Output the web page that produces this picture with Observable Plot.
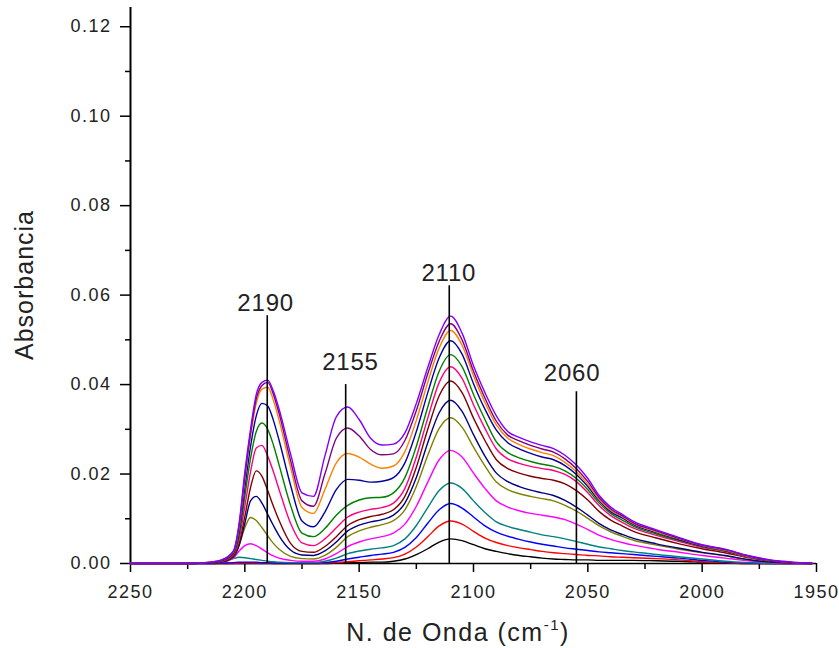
<!DOCTYPE html>
<html><head><meta charset="utf-8">
<script src="https://cdn.jsdelivr.net/npm/d3@7"></script>
<script src="https://cdn.jsdelivr.net/npm/@observablehq/plot@0.6"></script>
<style>
body{margin:0;background:#fff;}
#chart svg{display:block;font-family:"Liberation Sans",Arial,sans-serif;}
#chart g[aria-label="x-axis tick label"] text,
#chart g[aria-label="y-axis tick label"] text{letter-spacing:1.5px;}
#chart g[aria-label="text"] text{letter-spacing:0.8px;}
</style></head><body><div id="chart"></div>
<script>
// Wavenumber grid (cm-1)
const wavenumbers = [2250,2225,2215,2210,2205,2202.5,2200,2197.5,2195,2192.5,2190,2187.5,2185,2180,2175,2170,2165,2160,2155,2150,2145,2140,2135,2130,2125,2120,2115,2110,2105,2100,2095,2090,2085,2080,2075,2070,2065,2060,2055,2050,2045,2040,2035,2030,2020,2010,2000,1990,1980,1970,1960,1952];
// Absorbance values, in units of 1e-4
const UNIT = 1e-4;
const absBlack   = [0,0,0,0,0, 0,0,0,0,0, 0,0,0,0,0, 0,0,1,2,2, 3,3,5,10,20, 33,48,55,51,42, 33,27,22,18,15, 12,10,9,8,8, 7,7,7,7,6, 5,3,1,0,0, 0,0];
const absRed     = [0,0,0,0,0, 1,1,1,1,1, 1,0,0,0,0, 0,1,2,4,6, 8,10,13,21,37, 60,84,95,88,72, 57,47,40,35,31, 27,24,22,20,18, 17,15,14,13,11, 8,4,2,0,0, 0,0];
const absBlue    = [0,0,0,1,2, 3,3,3,3,2, 2,1,1,1,1, 1,2,5,10,14, 18,21,25,36,58, 90,120,134,124,104, 84,70,61,54,48, 43,39,35,32,29, 26,24,22,20,16, 12,7,3,1,0, 0,0];
const absTeal    = [0,0,1,4,11, 14,13,11,9,7, 5,4,3,2,2, 2,5,12,22,28, 32,35,40,55,85, 125,163,180,168,140, 114,93,83,76,70, 64,60,55,49,43, 37,33,29,26,20, 15,10,5,2,0, 0,0];
const absMagenta = [0,0,1,3,12, 28,40,44,40,32, 24,17,12,7,5, 5,10,22,38,48, 55,60,68,88,128, 182,232,253,238,202, 168,140,126,118,112, 108,104,98,88,76, 63,54,47,41,32, 25,18,12,6,2, 0,0];
const absOlive   = [0,0,1,3,14, 42,80,103,96,80, 62,45,32,16,11, 10,18,36,60,73, 81,87,96,120,172, 242,302,326,305,260, 218,182,165,156,150, 145,140,130,117,101, 84,71,61,52,41, 32,24,17,8,3, 1,0];
const absNavy    = [0,0,1,3,15, 40,90,140,150,135, 110,85,62,30,19, 18,28,48,73,86, 93,98,108,135,192, 270,337,365,340,288, 240,202,183,172,164, 158,152,141,126,108, 89,75,65,56,44, 34,25,18,9,3, 1,0];
const absWine    = [0,0,1,4,17, 45,105,170,207,195, 163,128,96,45,27, 25,38,60,85,98, 105,110,120,150,215, 300,375,408,382,325, 275,232,212,202,195, 190,186,178,163,142, 116,97,84,72,57, 44,33,24,13,5, 1,0];
const absPink    = [0,0,2,5,20, 55,128,205,258,264, 240,205,165,90,46, 40,55,80,104,115, 121,125,135,168,238, 325,405,440,414,355, 302,256,234,224,217, 212,208,199,183,158, 129,107,92,79,63, 49,36,27,14,6, 2,0];
const absGreen   = [0,0,2,6,22, 62,150,235,295,314, 300,265,220,130,68, 60,78,108,130,142, 147,148,158,192,262, 350,430,467,440,378, 322,272,248,236,228, 222,217,207,190,165, 135,112,97,83,66, 51,38,28,15,6, 2,0];
const absRoyal   = [0,0,2,7,24, 72,170,262,330,358, 352,320,275,175,95, 82,115,165,188,186, 182,184,192,225,295, 382,460,498,468,402, 345,298,270,256,246, 238,232,219,199,172, 140,116,102,87,69, 53,39,29,16,6, 2,0];
const absOrange  = [0,0,3,8,26, 80,188,285,358,390, 394,365,320,215,125, 112,165,225,246,238, 222,213,218,250,320, 405,482,521,488,420, 360,310,280,266,256, 248,241,226,205,177, 143,119,105,89,71, 55,40,30,16,7, 2,0];
const absPurple  = [0,0,3,8,27, 85,195,292,368,398, 405,378,335,230,140, 128,200,280,303,285, 255,243,245,275,342, 424,497,536,500,430, 370,318,287,274,264, 256,249,234,212,183, 147,122,107,91,73, 56,41,31,17,7, 2,0];
const absViolet  = [0,0,3,8,28, 90,205,300,378,405, 410,385,345,245,158, 150,240,328,350,322, 280,265,267,292,358, 438,512,553,515,442, 382,330,295,282,272, 264,257,242,220,190, 152,126,110,94,75, 58,42,32,18,8, 3,0];

const seriesNames = ["black","red","blue","darkcyan","magenta","darkyellow","navy","wine","pink","olive","royal","orange","purple","violet"];
const seriesValues = [absBlack,absRed,absBlue,absTeal,absMagenta,absOlive,absNavy,absWine,absPink,absGreen,absRoyal,absOrange,absPurple,absViolet];
const seriesColors = ["#000000","#ff0000","#0000ff","#008080","#ff00ff","#808000","#000080","#800000","#ff0080","#008000","#0000a0","#ff8000","#800080","#8000ff"];

// Axes
const xDomain = [2250, 1950];
const yDomain = [0, 0.1243];
const xMajorTicks = [2250,2200,2150,2100,2050,2000,1950];
const xMinorTicks = [2225,2175,2125,2075,2025,1975];
const yMajorTicks = [0,0.02,0.04,0.06,0.08,0.10,0.12];
const yMinorTicks = [0.01,0.03,0.05,0.07,0.09,0.11];

// Peak annotations
const peakWn     = [2190.2, 2155.9, 2110.6, 2055.0];
const peakTop    = [0.0554, 0.0400, 0.0621, 0.0384];
const peakLabels = ["2190", "2155", "2110", "2060"];
const labelWn    = [2190.9, 2153.8, 2110.8, 2056.9];
const labelAbs   = [0.0581, 0.0449, 0.0648, 0.0425];

const rows = [];
seriesValues.forEach((vals, k) => vals.forEach((v, i) => rows.push({wn: wavenumbers[i], abs: v * UNIT, series: seriesNames[k]})));
const peaks = peakWn.map((w, i) => ({wn: w, top: peakTop[i], label: peakLabels[i], lw: labelWn[i], la: labelAbs[i]}));

const chart = Plot.plot({
  width: 839, height: 648,
  marginLeft: 130, marginRight: 23, marginTop: 7, marginBottom: 85,
  style: {fontFamily: '"Liberation Sans", Arial, sans-serif', fontSize: "18px", color: "#222", background: "white"},
  x: {domain: xDomain},
  y: {domain: yDomain},
  color: {domain: seriesNames, range: seriesColors},
  marks: [
    Plot.axisX({ticks: xMajorTicks, tickSize: 9, tickPadding: 13, tickFormat: d => String(d), label: null, stroke: "black", strokeWidth: 1.5, fontSize: 18}),
    Plot.axisX({ticks: xMinorTicks, tickSize: 6, tickFormat: () => "", label: null, stroke: "black", strokeWidth: 1.5}),
    Plot.axisY({ticks: yMajorTicks, tickSize: 10, tickPadding: 9, tickFormat: d3.format(".2f"), label: null, stroke: "black", strokeWidth: 1.5, fontSize: 18}),
    Plot.axisY({ticks: yMinorTicks, tickSize: 5, tickFormat: () => "", label: null, stroke: "black", strokeWidth: 1.5}),
    Plot.ruleY([yDomain[0]], {stroke: "black", strokeWidth: 1.5}),
    Plot.ruleX([xDomain[0]], {stroke: "black", strokeWidth: 2}),
    Plot.line(rows, {x: "wn", y: "abs", z: "series", stroke: "series", strokeWidth: 1.4, curve: "monotone-x"}),
    Plot.ruleX(peaks, {x: "wn", y1: () => 0, y2: "top", stroke: "black", strokeWidth: 1.6}),
    Plot.text(peaks, {x: "lw", y: "la", text: "label", fontSize: 24, fill: "#222"})
  ]
});
document.getElementById("chart").appendChild(chart);

const svg = d3.select(chart);
svg.append("text")
  .attr("transform", "translate(33,285) rotate(-90)")
  .attr("text-anchor", "middle")
  .attr("font-size", 25).attr("letter-spacing", "1px").attr("fill", "#222")
  .text("Absorbancia");
const xt = svg.append("text")
  .attr("x", 458).attr("y", 641)
  .attr("text-anchor", "middle")
  .attr("font-size", 25).attr("letter-spacing", "1.5px").attr("fill", "#222");
xt.append("tspan").text("N. de Onda (cm");
xt.append("tspan").attr("font-size", 15).attr("dy", -11).text("-1");
xt.append("tspan").attr("dy", 11).text(")");
</script></body></html>
